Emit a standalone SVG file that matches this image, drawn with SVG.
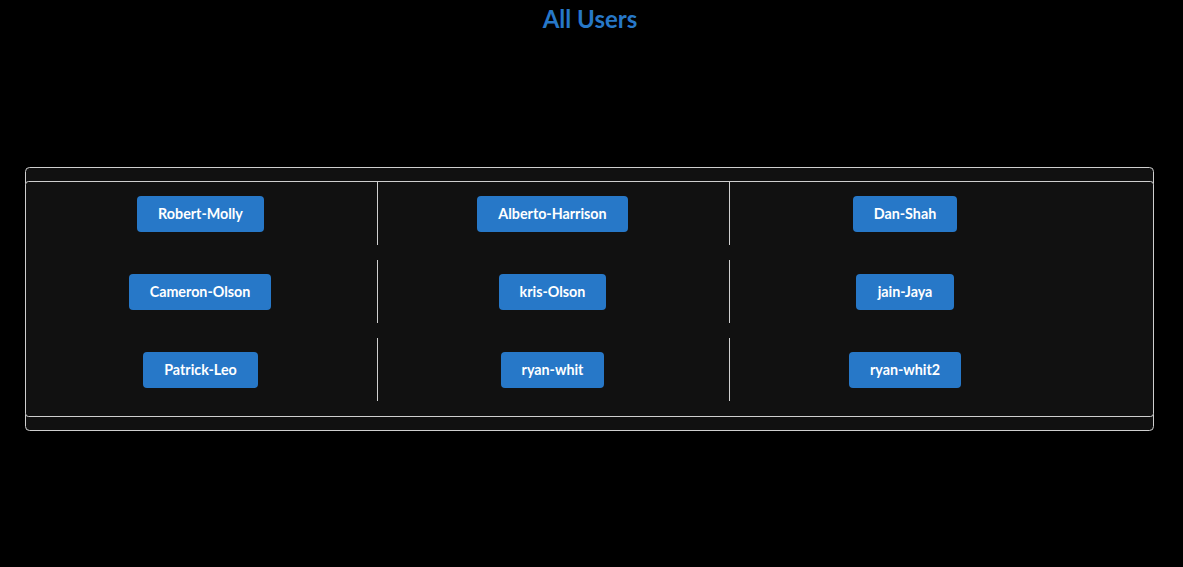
<svg xmlns="http://www.w3.org/2000/svg" width="1183" height="567" viewBox="0 0 1183 567">
<style>
.btn rect{fill:#2778c8;}
.btn text{fill:#ffffff;font-family:Lato,"Liberation Sans",sans-serif;font-weight:bold;font-size:14.3px;text-anchor:middle;}
.div{stroke:#d0d0d0;stroke-width:1;}
</style>
<rect width="1183" height="567" fill="#000"/>
<text x="590" y="28" fill="#2778c8" font-family="Lato,'Liberation Sans',sans-serif" font-weight="bold" font-size="24" text-anchor="middle">All Users</text>
<g id="panel">
<rect x="25.5" y="167.5" width="1128" height="263" rx="4" fill="#111" stroke="#cfcfcf"/>
<rect x="25.5" y="181.5" width="1128" height="235" rx="3" fill="#111" stroke="#cfcfcf"/>
</g>
<g id="dividers">
<line class="div" x1="377.5" y1="182" x2="377.5" y2="245"/>
<line class="div" x1="729.5" y1="182" x2="729.5" y2="245"/>
<line class="div" x1="377.5" y1="260" x2="377.5" y2="323"/>
<line class="div" x1="729.5" y1="260" x2="729.5" y2="323"/>
<line class="div" x1="377.5" y1="338" x2="377.5" y2="401"/>
<line class="div" x1="729.5" y1="338" x2="729.5" y2="401"/>
</g>
<g id="robert-molly" class="btn"><rect x="137" y="196" width="127" height="36" rx="4"/><text x="200.5" y="219">Robert-Molly</text></g>
<g id="alberto-harrison" class="btn"><rect x="477" y="196" width="151" height="36" rx="4"/><text x="552.5" y="219">Alberto-Harrison</text></g>
<g id="dan-shah" class="btn"><rect x="853" y="196" width="104" height="36" rx="4"/><text x="905" y="219">Dan-Shah</text></g>
<g id="cameron-olson" class="btn"><rect x="129" y="274" width="142" height="36" rx="4"/><text x="200" y="297">Cameron-Olson</text></g>
<g id="kris-olson" class="btn"><rect x="499" y="274" width="107" height="36" rx="4"/><text x="552.5" y="297">kris-Olson</text></g>
<g id="jain-jaya" class="btn"><rect x="856" y="274" width="98" height="36" rx="4"/><text x="905" y="297">jain-Jaya</text></g>
<g id="patrick-leo" class="btn"><rect x="143" y="352" width="115" height="36" rx="4"/><text x="200.5" y="375">Patrick-Leo</text></g>
<g id="ryan-whit" class="btn"><rect x="501" y="352" width="103" height="36" rx="4"/><text x="552.5" y="375">ryan-whit</text></g>
<g id="ryan-whit2" class="btn"><rect x="849" y="352" width="112" height="36" rx="4"/><text x="905" y="375">ryan-whit2</text></g>
</svg>
